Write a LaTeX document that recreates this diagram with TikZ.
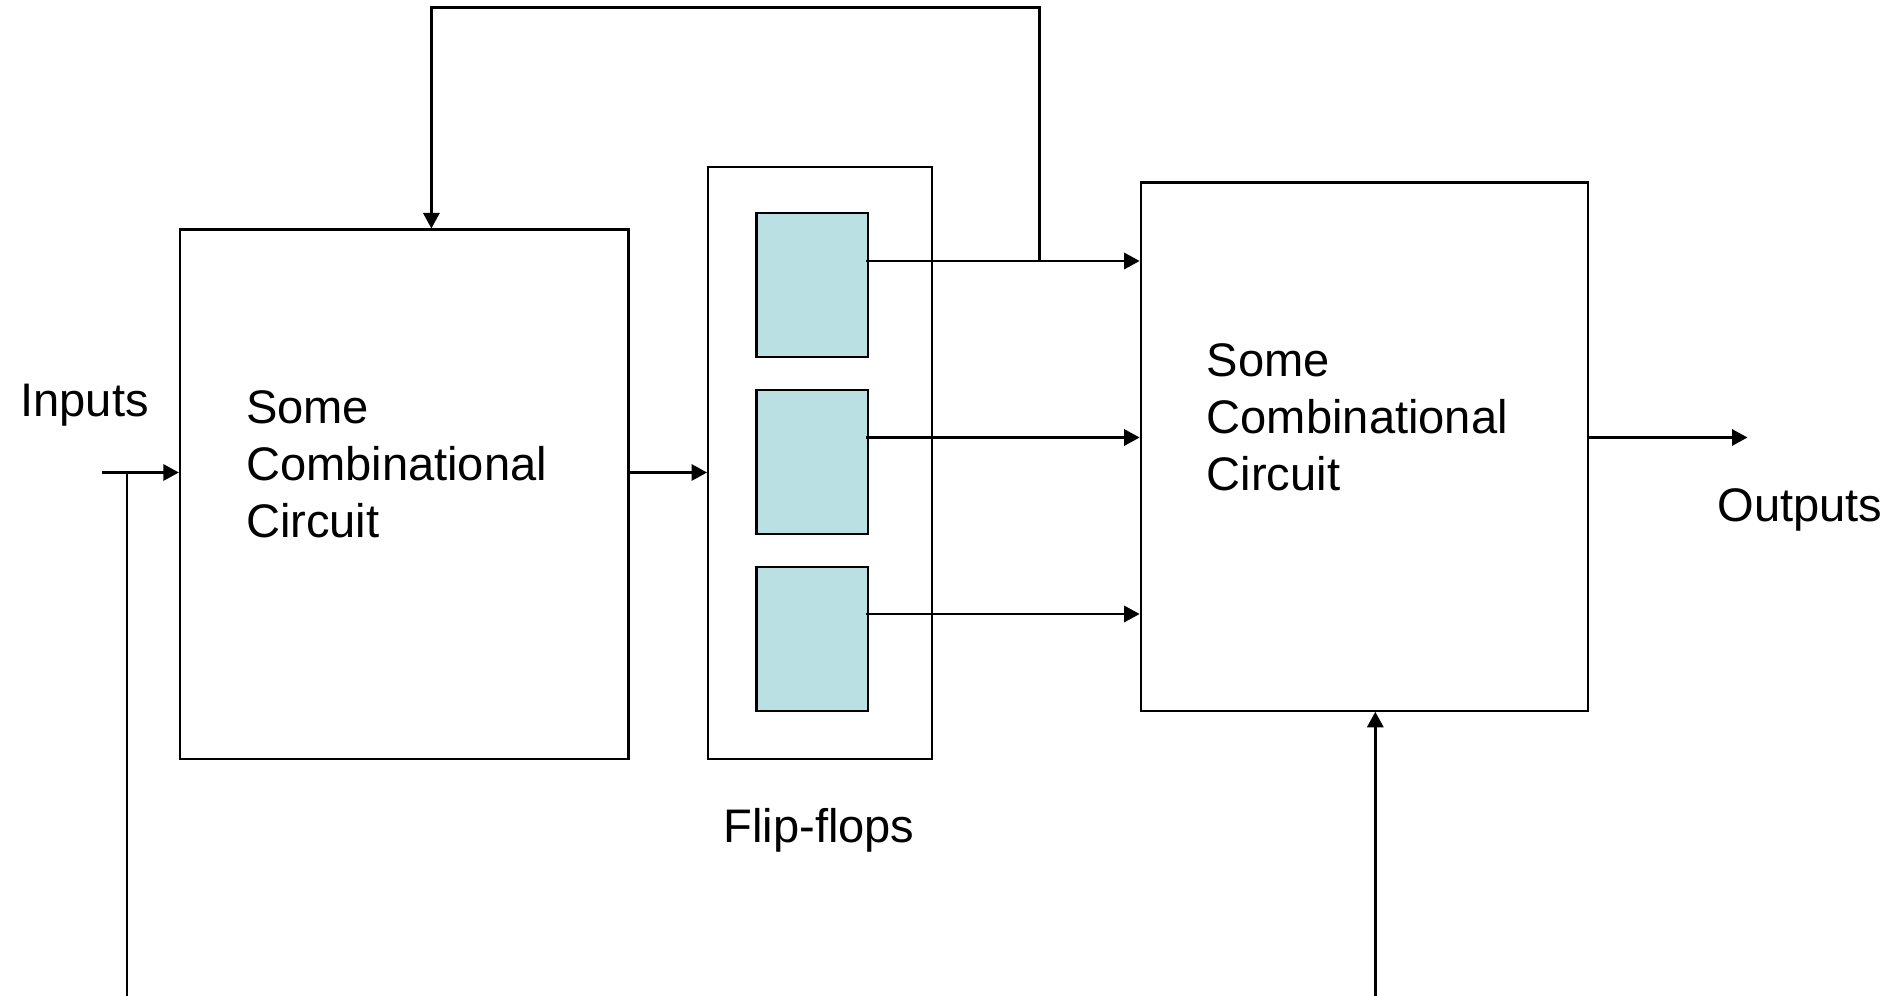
\documentclass[tikz,border=0pt]{standalone}
\usepackage{fontspec}
\setmainfont{Liberation Sans}
\usetikzlibrary{arrows.meta,positioning}
\definecolor{cellblue}{RGB}{187,224,227}
\tikzset{
  wire/.style={line width=0.7pt},
  arr/.style={
    wire,
    -{Triangle[length=4.4pt,width=4.6pt]}
  },
  block/.style={
    draw,
    rectangle,
    line width=0.65pt,
    inner sep=0pt
  },
  cell/.style={
    block,
    fill=cellblue,
    minimum width=1.112cm,
    minimum height=1.44cm
  },
  txt/.style={
    font=\fontsize{13.4pt}{16.2pt}\selectfont,
    inner sep=0pt,
    align=left
  }
}

\begin{document}
\begin{tikzpicture}
  \useasboundingbox (0,0) rectangle (18.95,-9.96);
  % blocks
  \node[block, minimum width=4.484cm, minimum height=5.294cm] (comb1) at (4.042,-4.943) {};
  \node[block, minimum width=2.236cm, minimum height=5.922cm] (ffbox) at (8.2,-4.629) {};
  \node[cell] (ff2) at (8.121,-4.62) {};
  \node[cell, above=0.31cm of ff2] (ff1) {};
  \node[cell, below=0.31cm of ff2] (ff3) {};
  \node[block, minimum width=4.472cm, minimum height=5.281cm] (comb2) at (13.644,-4.466) {};
  % texts
  \node[txt, anchor=west] (comb1txt) at (2.453,-4.64) {Some\\Combinational\\Circuit};
  \node[txt, anchor=west] (comb2txt) at (12.061,-4.17) {Some\\Combinational\\Circuit};
  \node[txt] (inlbl) at (0.846,-4.05) {Inputs};
  \node[txt] (outlbl) at (18.0,-5.10) {Outputs};
  \node[txt] (fflbl) at (8.19,-8.30) {Flip-flops};
  % free ends
  \coordinate (in) at (1.015,-4.725);
  \coordinate (inlow) at (1.269,-9.96);
  \coordinate (clk) at (13.753,-9.96);
  \coordinate (out) at (17.475,-4.375);
  \coordinate (tap) at (10.393,-2.61);
  \coordinate (fbtop) at (4.314,-0.073);
  % connectors
  \draw[arr] (in) -- (comb1.west |- in);
  \draw[wire] (inlow |- in) -- (inlow);
  \draw[arr] (comb1.east |- in) -- (ffbox.west |- in);
  \foreach \i/\y in {1/-2.61,2/-4.375,3/-6.14} {
    \coordinate (row\i) at (0,\y);
    \draw[arr] ([xshift=-0.03cm]ff\i.east |- row\i) -- (comb2.west |- row\i);
  }
  \draw[arr] (tap) |- (fbtop) -- (fbtop |- comb1.north);
  \draw[arr] (comb2.east |- out) -- (out);
  \draw[arr] (clk) -- (clk |- comb2.south);
\end{tikzpicture}
\end{document}
